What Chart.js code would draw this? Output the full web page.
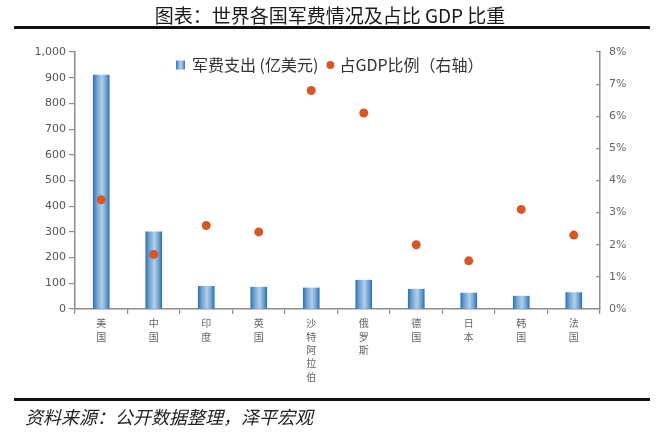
<!DOCTYPE html>
<html><head><meta charset="utf-8">
<script src="https://cdn.jsdelivr.net/npm/chart.js@4.4.1/dist/chart.umd.min.js"></script>
<style>
html,body{margin:0;padding:0;background:#fff;width:660px;height:444px;overflow:hidden;}
#wrap{position:relative;width:660px;height:444px;}
#title{position:absolute;left:0;width:660px;top:3px;text-align:center;font:19px 'Noto Sans CJK SC',sans-serif;color:#1a1a1a;line-height:24px;}
.rule{position:absolute;left:14px;width:636px;height:3px;background:#111;}
#source{position:absolute;left:25px;top:404px;font:italic 18px 'Noto Sans CJK SC',sans-serif;color:#222;line-height:24px;}
canvas{position:absolute;left:0;top:0;}
</style></head>
<body><div id="wrap">
<canvas id="c" width="660" height="444"></canvas>
<div id="title">图表：世界各国军费情况及占比 GDP 比重</div>
<div class="rule" style="top:26px"></div>
<div class="rule" style="top:398px"></div>
<div id="source">资料来源：公开数据整理，泽平宏观</div>
</div>
<script>
const categories = ['美国','中国','印度','英国','沙特阿拉伯','俄罗斯','德国','日本','韩国','法国'];
const spending = [910, 300, 88, 85, 82, 112, 77, 62, 50, 64];
const gdpShare = [3.4, 1.7, 2.6, 2.4, 6.8, 6.1, 2.0, 1.5, 3.1, 2.3];
const spendLabel = '军费支出 (亿美元)';
const shareLabel = '占GDP比例（右轴）';
const leftMax = 1000, leftStep = 100;
const rightMax = 8, rightStep = 1;

const BAR_W = 16;
const DARK = '#2f74b6', MID = '#6fa2d2', LIGHT = '#b4cfe7', DOT = '#d4572a';

function makeGrad(c, x0, w){
  const g = c.createLinearGradient(x0, 0, x0 + w, 0);
  g.addColorStop(0, DARK);
  g.addColorStop(0.22, MID);
  g.addColorStop(0.55, LIGHT);
  g.addColorStop(0.8, MID);
  g.addColorStop(1, DARK);
  return g;
}
function barGradient(ctx){
  const chart = ctx.chart, xs = chart.scales && chart.scales.x;
  if (!xs || ctx.dataIndex === undefined) return '#5b95c9';
  const cx = xs.getPixelForValue(ctx.dataIndex);
  if (!isFinite(cx)) return '#5b95c9';
  return makeGrad(chart.ctx, cx - BAR_W/2, BAR_W);
}

const legendPlugin = {
  id: 'customLegend',
  afterDraw(chart){
    const c = chart.ctx;
    c.save();
    c.font = '16px "Noto Sans CJK SC", sans-serif';
    c.textBaseline = 'middle';
    const y = 65;
    let x = 176;
    c.fillStyle = makeGrad(c, x, 9);
    c.fillRect(x, y - 4.5, 9, 9);
    x += 16;
    c.fillStyle = '#333';
    const l1 = chart.data.datasets[1].label;
    c.fillText(l1, x, y);
    x += c.measureText(l1).width + 8;
    c.beginPath();
    c.fillStyle = DOT;
    c.arc(x + 4, y, 4, 0, Math.PI * 2);
    c.fill();
    x += 13;
    c.fillStyle = '#333';
    c.fillText(chart.data.datasets[0].label, x, y);
    c.restore();
  }
};

const tickFont = {family: 'DejaVu Sans', size: 11};
const axisColor = '#8c8c8c';

new Chart(document.getElementById('c'), {
  type: 'bar',
  data: {
    labels: categories.map(s => s.split('')),
    datasets: [
      {
        type: 'line',
        label: shareLabel,
        data: gdpShare,
        yAxisID: 'y1',
        showLine: false,
        pointRadius: 4.5,
        pointBorderWidth: 0,
        pointBackgroundColor: DOT,
        backgroundColor: DOT,
        order: 0
      },
      {
        type: 'bar',
        label: spendLabel,
        data: spending,
        yAxisID: 'y',
        backgroundColor: barGradient,
        borderWidth: 0,
        barThickness: BAR_W,
        order: 1
      }
    ]
  },
  options: {
    responsive: false,
    animation: false,
    layout: {padding: {top: 52, left: 0, right: 0, bottom: 0}},
    plugins: {legend: {display: false}, tooltip: {enabled: false}, title: {display: false}},
    scales: {
      x: {
        offset: true,
        grid: {display: true, offset: true, drawOnChartArea: false, drawTicks: true, tickLength: 5, color: axisColor, lineWidth: 1.2},
        border: {display: true, color: axisColor, width: 1.5},
        ticks: {autoSkip: false, maxRotation: 0, minRotation: 0, padding: 3, color: '#666',
          font: {family: 'Noto Sans CJK SC', size: 10, lineHeight: 1.33}},
        afterFit(s){ s.height = 135; }
      },
      y: {
        position: 'left',
        min: 0, max: leftMax,
        ticks: {stepSize: leftStep, color: '#555', font: tickFont, padding: 3},
        grid: {display: true, drawOnChartArea: false, drawTicks: true, tickLength: 6, color: axisColor, lineWidth: 1.2},
        border: {display: true, color: axisColor, width: 1.5},
        afterFit(s){ s.width = 75; }
      },
      y1: {
        position: 'right',
        min: 0, max: rightMax,
        ticks: {stepSize: rightStep, color: '#666', font: tickFont, padding: 13,
          callback: v => v + '%'},
        grid: {display: true, drawOnChartArea: false, drawTicks: true, tickLength: -4, color: axisColor, lineWidth: 1.2},
        border: {display: true, color: axisColor, width: 1.5},
        afterFit(s){ s.width = 60; }
      }
    }
  },
  plugins: [legendPlugin]
});
</script>
</body></html>
